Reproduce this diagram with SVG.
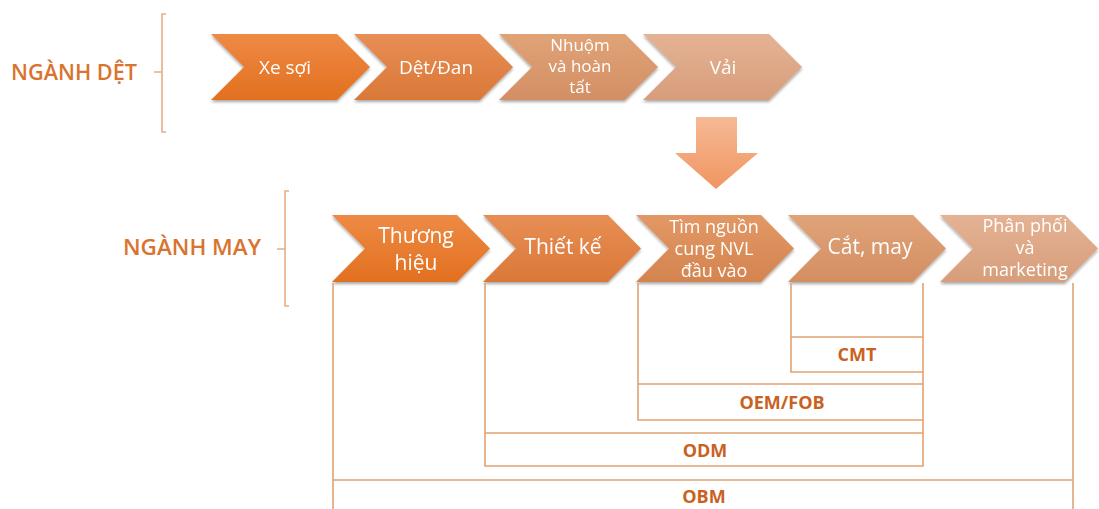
<svg xmlns="http://www.w3.org/2000/svg" width="1099" height="509" viewBox="0 0 1099 509">
  <style>
    .cap { font-family: "Open Sans", "Noto Sans", sans-serif; font-size: 17px; fill: #ffffff; text-anchor: middle; }
    .cap1 { font-family: "Open Sans", "Noto Sans", sans-serif; font-size: 19px; fill: #ffffff; text-anchor: middle; }
    .cap2 { font-family: "Open Sans", "Noto Sans", sans-serif; font-size: 21px; fill: #ffffff; text-anchor: middle; }
    .cap3 { font-family: "Open Sans", "Noto Sans", sans-serif; font-size: 18px; fill: #ffffff; text-anchor: middle; }
    .sector { font-family: "Open Sans", "Noto Sans", sans-serif; font-weight: 600; font-size: 21px; fill: #D8742F; }
    .model { font-family: "Open Sans", "Noto Sans", sans-serif; font-weight: 700; font-size: 18px; fill: #C9621F; text-anchor: middle; }
    .frame { fill: none; stroke: #E0A273; stroke-width: 1.6; }
    .brace { fill: none; stroke: #E6AE87; stroke-width: 1.6; }
  </style>
  <defs>
    <linearGradient id="g1" x1="0" y1="0" x2="0" y2="1">
      <stop offset="0" stop-color="#EE8A45"/><stop offset="1" stop-color="#E2701F"/>
    </linearGradient>
    <linearGradient id="g2" x1="0" y1="0" x2="0" y2="1">
      <stop offset="0" stop-color="#E88E55"/><stop offset="1" stop-color="#DA7838"/>
    </linearGradient>
    <linearGradient id="g3" x1="0" y1="0" x2="0" y2="1">
      <stop offset="0" stop-color="#E29865"/><stop offset="1" stop-color="#D4844F"/>
    </linearGradient>
    <linearGradient id="g4" x1="0" y1="0" x2="0" y2="1">
      <stop offset="0" stop-color="#E0A378"/><stop offset="1" stop-color="#D38F63"/>
    </linearGradient>
    <linearGradient id="g5" x1="0" y1="0" x2="0" y2="1">
      <stop offset="0" stop-color="#E4B394"/><stop offset="1" stop-color="#D79D7B"/>
    </linearGradient>
    <linearGradient id="garrow" x1="0" y1="0" x2="0" y2="1">
      <stop offset="0" stop-color="#F6B996"/><stop offset="1" stop-color="#F09560"/>
    </linearGradient>
    <filter id="shadow" x="-5%" y="-10%" width="110%" height="130%">
      <feGaussianBlur in="SourceAlpha" stdDeviation="1.5"/>
      <feOffset dx="0" dy="2" result="b"/>
      <feComponentTransfer><feFuncA type="linear" slope="0.35"/></feComponentTransfer>
      <feMerge><feMergeNode/><feMergeNode in="SourceGraphic"/></feMerge>
    </filter>
    <!-- chevron: width 159, height 66, tip/notch depth 33 -->
    <path id="chevTop" d="M0 0 H126 L159 33 L126 66 H0 L33 33 Z"/>
    <path id="chevBot" d="M0 0 H125 L158 33.5 L125 67 H0 L33 33.5 Z"/>
  </defs>

  <!-- textile sector label and brace -->
  <g id="sector-det">
    <text class="sector" x="11" y="80" textLength="126" lengthAdjust="spacingAndGlyphs">NGÀNH DỆT</text>
    <path class="brace" d="M166 14 H162 V132 H166 M162 72 H154"/>
  </g>

  <!-- garment sector label and brace -->
  <g id="sector-may">
    <text class="sector" x="123" y="255" textLength="138" lengthAdjust="spacingAndGlyphs">NGÀNH MAY</text>
    <path class="brace" d="M289 191 H285 V306 H289 M285 249 H277"/>
  </g>

  <!-- textile chain -->
  <g id="xe-soi" filter="url(#shadow)">
    <use href="#chevTop" x="211" y="34" fill="url(#g1)"/>
    <text class="cap1" x="285" y="74">Xe sợi</text>
  </g>
  <g id="det-dan" filter="url(#shadow)">
    <use href="#chevTop" x="354" y="34" fill="url(#g2)"/>
    <text class="cap1" x="436" y="74">Dệt/Đan</text>
  </g>
  <g id="nhuom" filter="url(#shadow)">
    <use href="#chevTop" x="499" y="34" fill="url(#g4)"/>
    <text class="cap" x="580" y="51">Nhuộm</text>
    <text class="cap" x="580" y="72">và hoàn</text>
    <text class="cap" x="580" y="93">tất</text>
  </g>
  <g id="vai" filter="url(#shadow)">
    <use href="#chevTop" x="643" y="34" fill="url(#g5)"/>
    <text class="cap1" x="723" y="74">Vải</text>
  </g>

  <!-- garment chain -->
  <g id="thuong-hieu" filter="url(#shadow)">
    <use href="#chevBot" x="332" y="215" fill="url(#g1)"/>
    <text class="cap2" x="416" y="243">Thương</text>
    <text class="cap2" x="416" y="270">hiệu</text>
  </g>
  <g id="thiet-ke" filter="url(#shadow)">
    <use href="#chevBot" x="483" y="215" fill="url(#g2)"/>
    <text class="cap2" x="563" y="254">Thiết kế</text>
  </g>
  <g id="tim-nguon" filter="url(#shadow)">
    <use href="#chevBot" x="636" y="215" fill="url(#g3)"/>
    <text class="cap3" x="714" y="233">Tìm nguồn</text>
    <text class="cap3" x="714" y="255">cung NVL</text>
    <text class="cap3" x="714" y="277">đầu vào</text>
  </g>
  <g id="cat-may" filter="url(#shadow)">
    <use href="#chevBot" x="788" y="215" fill="url(#g4)"/>
    <text class="cap2" x="870" y="254">Cắt, may</text>
  </g>
  <g id="phan-phoi" filter="url(#shadow)">
    <use href="#chevBot" x="940" y="215" fill="url(#g5)"/>
    <text class="cap3" x="1025" y="232">Phân phối</text>
    <text class="cap3" x="1025" y="254">và</text>
    <text class="cap3" x="1025" y="276">marketing</text>
  </g>

  <!-- business model frames -->
  <g id="cmt">
    <path class="frame" d="M791 283 V372 H923 M791 337 H923"/>
    <text class="model" x="857" y="361">CMT</text>
  </g>
  <g id="oem-fob">
    <path class="frame" d="M638 283 V420 H923 M638 384 H923"/>
    <text class="model" x="782" y="409">OEM/FOB</text>
  </g>
  <g id="odm">
    <path class="frame" d="M485 283 V466 H923 V283 M485 433 H923"/>
    <text class="model" x="705" y="457">ODM</text>
  </g>
  <g id="obm">
    <path class="frame" d="M333 283 V509 M1073 283 V509 M333 480 H1073"/>
    <text class="model" x="704" y="503">OBM</text>
  </g>

  <!-- flow from fabric into garment chain -->
  <g id="connectors">
    <path d="M696 117 H737 V153 H758 L716 189 L675 153 H696 Z" fill="url(#garrow)"/>
  </g>
</svg>
